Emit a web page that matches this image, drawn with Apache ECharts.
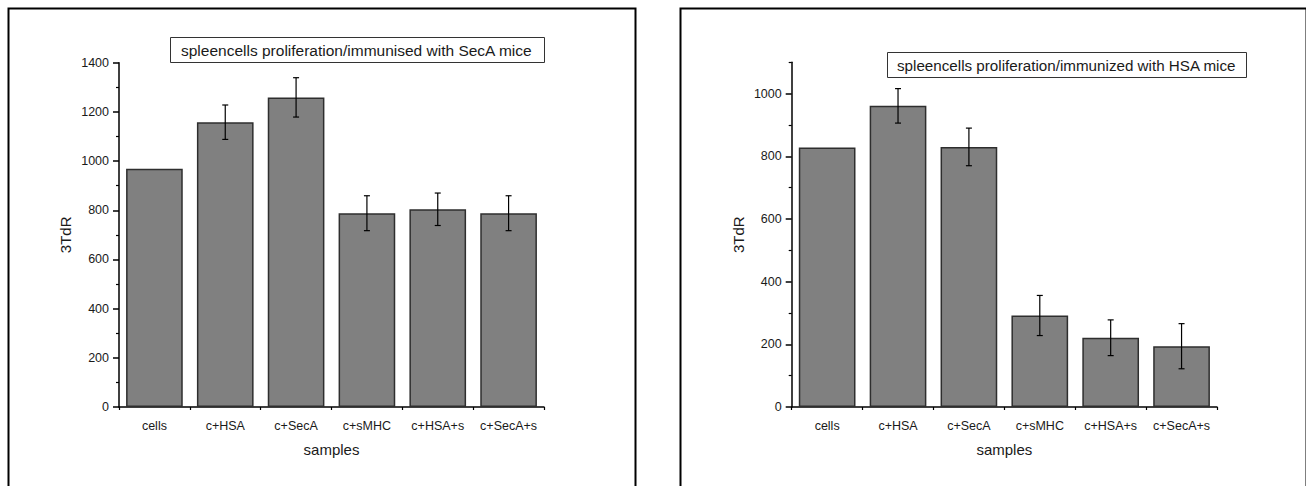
<!DOCTYPE html>
<html>
<head>
<meta charset="utf-8">
<script src="https://cdn.jsdelivr.net/npm/echarts@6/dist/echarts.min.js"></script>
<style>
html,body{margin:0;padding:0;background:#fff;}
#chart{width:1306px;height:486px;}
</style>
</head>
<body>
<div id="chart"></div>
<script>
// ---- data ----
const categories = ['cells', 'c+HSA', 'c+SecA', 'c+sMHC', 'c+HSA+s', 'c+SecA+s'];
const secaMeans = [969, 1158, 1259, 788, 804, 788];
const secaErrors = [0, 70, 80, 71, 66, 71];
const hsaMeans = [828, 961, 830, 292, 221, 194];
const hsaErrors = [0, 55, 60, 64, 57, 72];
const secaMajorTicks = [0, 200, 400, 600, 800, 1000, 1200, 1400];
const secaMinorTicks = [100, 300, 500, 700, 900, 1100, 1300];
const hsaMajorTicks = [0, 200, 400, 600, 800, 1000];
const hsaMinorTicks = [100, 300, 500, 700, 900, 1100];
const secaTitle = 'spleencells proliferation/immunised with SecA mice';
const hsaTitle = 'spleencells proliferation/immunized with HSA mice';
const xName = 'samples';
const yName = '3TdR';

const FONT = "'Liberation Sans', Arial, sans-serif";
const TXT = '#1a1a1a';

const chart = echarts.init(document.getElementById('chart'), null, {renderer: 'svg'});

function xAxes(gridIndex) {
  return [
    {
      type: 'category', gridIndex, data: categories, position: 'bottom',
      axisLine: {lineStyle: {color: '#000', width: 1.5}},
      axisTick: {alignWithLabel: true, interval: 0, length: 6, lineStyle: {color: '#000', width: 1.5}},
      axisLabel: {interval: 0, color: TXT, fontFamily: FONT, fontSize: 12.5, margin: 12},
      name: xName, nameLocation: 'middle', nameGap: 35,
      nameTextStyle: {color: TXT, fontFamily: FONT, fontSize: 15}
    },
    {
      type: 'category', gridIndex, data: categories, position: 'bottom',
      axisLine: {show: false},
      axisTick: {show: true, interval: 0, length: 3, lineStyle: {color: '#000', width: 1.2}},
      axisLabel: {show: false}
    }
  ];
}

function yAxes(gridIndex, max, major, minor) {
  return [
    {
      type: 'value', gridIndex, min: 0, max: max, position: 'left',
      axisLine: {show: true, lineStyle: {color: '#000', width: 1.5}},
      axisTick: {show: true, length: 6, customValues: major, lineStyle: {color: '#000', width: 1.5}},
      axisLabel: {customValues: major, formatter: v => String(v), color: TXT, fontFamily: FONT, fontSize: 12.5, margin: 10},
      splitLine: {show: false},
      name: yName, nameLocation: 'middle', nameGap: 46,
      nameTextStyle: {color: TXT, fontFamily: FONT, fontSize: 15}
    },
    {
      type: 'value', gridIndex, min: 0, max: max, position: 'left', offset: 0,
      axisLine: {show: false},
      axisTick: {show: true, length: 3, customValues: minor, lineStyle: {color: '#000', width: 1.2}},
      axisLabel: {show: false},
      splitLine: {show: false}
    }
  ];
}

function errorBarRender(params, api) {
  const idx = api.value(0);
  const mean = api.value(1);
  const err = api.value(2);
  if (!err) return;
  const top = api.coord([idx, mean + err]);
  const bot = api.coord([idx, mean - err]);
  const hw = 3;
  const style = {stroke: '#000', lineWidth: 1.2};
  return {
    type: 'group',
    children: [
      {type: 'line', shape: {x1: top[0], y1: top[1], x2: bot[0], y2: bot[1]}, style},
      {type: 'line', shape: {x1: top[0] - hw, y1: top[1], x2: top[0] + hw, y2: top[1]}, style},
      {type: 'line', shape: {x1: bot[0] - hw, y1: bot[1], x2: bot[0] + hw, y2: bot[1]}, style}
    ]
  };
}

const barStyle = {color: '#808080', borderColor: '#2e2e2e', borderWidth: 1.5};

const option = {
  backgroundColor: '#fff',
  animation: false,
  title: [
    {
      text: secaTitle, left: 170, top: 37,
      padding: [5, 12, 5, 11], borderColor: '#333', borderWidth: 1,
      textStyle: {color: TXT, fontFamily: FONT, fontSize: 15.5, fontWeight: 'normal', lineHeight: 16}
    },
    {
      text: hsaTitle, left: 887, top: 52,
      padding: [5, 10, 5, 10], borderColor: '#333', borderWidth: 1,
      textStyle: {color: TXT, fontFamily: FONT, fontSize: 15.2, fontWeight: 'normal', lineHeight: 16}
    }
  ],
  graphic: [
    {type: 'rect', left: 6, top: 6, shape: {width: 627, height: 500}, style: {fill: 'none', stroke: '#000', lineWidth: 2}, silent: true},
    {type: 'rect', left: 678, top: 6, shape: {width: 626, height: 500}, style: {fill: 'none', stroke: '#000', lineWidth: 2}, silent: true}
  ],
  grid: [
    {left: 119, top: 62.7, width: 425, height: 344.3},
    {left: 791.7, top: 62.3, width: 425.3, height: 344.7}
  ],
  xAxis: [...xAxes(0), ...xAxes(1)],
  yAxis: [
    ...yAxes(0, 1400, secaMajorTicks, secaMinorTicks),
    ...yAxes(1, 1100, hsaMajorTicks, hsaMinorTicks)
  ],
  series: [
    {
      type: 'bar', xAxisIndex: 0, yAxisIndex: 0, data: secaMeans,
      barCategoryGap: '20%', itemStyle: barStyle
    },
    {
      type: 'custom', xAxisIndex: 0, yAxisIndex: 0, z: 5,
      renderItem: errorBarRender,
      encode: {x: 0, y: 1},
      data: categories.map((c, i) => [i, secaMeans[i], secaErrors[i]])
    },
    {
      type: 'bar', xAxisIndex: 2, yAxisIndex: 2, data: hsaMeans,
      barCategoryGap: '20%', itemStyle: barStyle
    },
    {
      type: 'custom', xAxisIndex: 2, yAxisIndex: 2, z: 5,
      renderItem: errorBarRender,
      encode: {x: 0, y: 1},
      data: categories.map((c, i) => [i, hsaMeans[i], hsaErrors[i]])
    }
  ]
};
chart.setOption(option);
</script>
</body>
</html>
